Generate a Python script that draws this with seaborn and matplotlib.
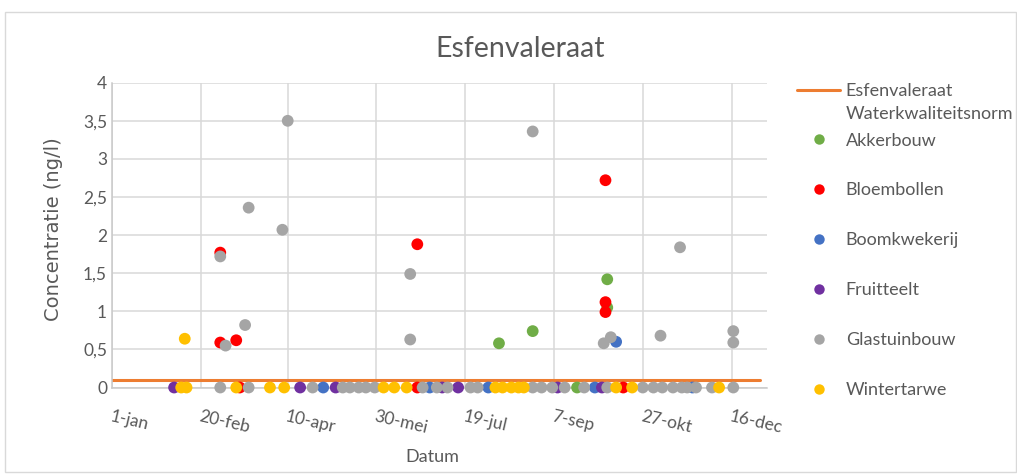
import numpy as np
import pandas as pd
import matplotlib
matplotlib.use("Agg")
import matplotlib.pyplot as plt
from matplotlib.lines import Line2D
from matplotlib.legend_handler import HandlerLine2D
from matplotlib.patches import Rectangle
import seaborn as sns

# --- data -------------------------------------------------------------------
sectors = ["Akkerbouw", "Bloembollen", "Boomkwekerij", "Fruitteelt",
           "Glastuinbouw", "Wintertarwe"]
sector_colors = ["#70AD47", "#FF0000", "#4472C4", "#7030A0", "#A5A5A5", "#FFC000"]

akkerbouw_dates = ["2019-09-20", "2019-08-07", "2019-08-26", "2019-10-07", "2019-10-07"]
akkerbouw_values = [0.0, 0.58, 0.74, 1.42, 1.05]

bloembollen_dates = ["2019-03-14", "2019-06-22", "2019-10-16",
                     "2019-03-03", "2019-03-03", "2019-03-12", "2019-06-22",
                     "2019-10-06", "2019-10-06", "2019-10-06"]
bloembollen_values = [0.0, 0.0, 0.0, 1.77, 0.59, 0.62, 1.88, 2.72, 1.12, 0.99]

boomkwekerij_dates = ["2019-04-30", "2019-06-29", "2019-08-01", "2019-09-30",
                      "2019-11-24", "2019-10-12"]
boomkwekerij_values = [0.0, 0.0, 0.0, 0.0, 0.0, 0.60]

fruitteelt_dates = ["2019-02-05", "2019-04-17", "2019-05-07", "2019-07-06",
                    "2019-07-15", "2019-09-09", "2019-10-04"]
fruitteelt_values = [0.0, 0.0, 0.0, 0.0, 0.0, 0.0, 0.0]

glastuinbouw_dates = ["2019-03-03", "2019-03-19", "2019-04-24", "2019-05-11",
                      "2019-05-15", "2019-05-20", "2019-05-24", "2019-05-29",
                      "2019-06-25", "2019-07-03", "2019-07-09", "2019-07-22",
                      "2019-07-26", "2019-08-26", "2019-08-31", "2019-09-06",
                      "2019-09-13", "2019-09-24", "2019-10-07", "2019-10-27",
                      "2019-11-02", "2019-11-07", "2019-11-13", "2019-11-18",
                      "2019-11-21", "2019-11-26", "2019-12-05", "2019-12-17",
                      "2019-04-10", "2019-03-19", "2019-04-07", "2019-03-03",
                      "2019-06-18", "2019-03-17", "2019-03-06", "2019-06-18",
                      "2019-08-26", "2019-11-17", "2019-10-05", "2019-10-09",
                      "2019-11-06", "2019-12-17", "2019-12-17"]
glastuinbouw_values = [0.0] * 28 + [3.50, 2.36, 2.07, 1.72, 1.49, 0.82, 0.55, 0.63,
                                    3.36, 1.84, 0.58, 0.66, 0.68, 0.74, 0.59]

wintertarwe_dates = ["2019-02-09", "2019-02-12", "2019-03-12", "2019-03-31",
                     "2019-04-08", "2019-06-03", "2019-06-09", "2019-06-16",
                     "2019-08-05", "2019-08-09", "2019-08-14", "2019-08-18",
                     "2019-08-21", "2019-10-12", "2019-10-21", "2019-12-09",
                     "2019-02-11"]
wintertarwe_values = [0.0] * 16 + [0.64]

norm_label = "Esfenvaleraat\nWaterkwaliteitsnorm"
norm_dates = ["2019-01-01", "2020-01-01"]
norm_values = [0.1, 0.1]

tick_dates = ["2019-01-01", "2019-02-20", "2019-04-10", "2019-05-30",
              "2019-07-19", "2019-09-07", "2019-10-27", "2019-12-16"]
tick_labels = ["1-jan", "20-feb", "10-apr", "30-mei", "19-jul", "7-sep",
               "27-okt", "16-dec"]
y_ticks = [0, 0.5, 1, 1.5, 2, 2.5, 3, 3.5, 4]

series = [
    (akkerbouw_dates, akkerbouw_values),
    (bloembollen_dates, bloembollen_values),
    (boomkwekerij_dates, boomkwekerij_values),
    (fruitteelt_dates, fruitteelt_values),
    (glastuinbouw_dates, glastuinbouw_values),
    (wintertarwe_dates, wintertarwe_values),
]
df = pd.concat(
    [pd.DataFrame({"datum": pd.to_datetime(d), "concentratie": v, "sector": name})
     for name, (d, v) in zip(sectors, series)],
    ignore_index=True,
)

# --- style ------------------------------------------------------------------
sns.set_theme(style="white")
plt.rcParams["font.family"] = ["Lato", "DejaVu Sans"]
text_grey = "#595959"

fig = plt.figure(figsize=(10.17, 4.75), dpi=100)
ax = fig.add_axes([0.1101, 0.1842, 0.6441, 0.6417])

norm_color = "#ED7D31"
sns.lineplot(x=pd.to_datetime(norm_dates), y=norm_values, color=norm_color,
             linewidth=2.2, ax=ax, zorder=2)
sns.scatterplot(data=df, x="datum", y="concentratie", hue="sector",
                hue_order=sectors, palette=sector_colors, s=72, linewidth=0,
                legend=False, clip_on=False, zorder=3, ax=ax)

ax.set_xlim(pd.Timestamp("2019-01-01"), pd.Timestamp("2020-01-05"))
ax.set_ylim(0, 4)
ax.set_xticks(pd.to_datetime(tick_dates))
ax.set_xticklabels(tick_labels, rotation=-13, ha="left", va="top",
                   rotation_mode="anchor")
ax.set_yticks(y_ticks)
ax.set_yticklabels([f"{v:g}".replace(".", ",") for v in y_ticks])
ax.tick_params(axis="both", length=0, labelcolor=text_grey, labelsize=12.5)
ax.tick_params(axis="x", pad=15)
ax.tick_params(axis="y", pad=3.5)

ax.grid(True, color="#D9D9D9", linewidth=1.1)
ax.set_axisbelow(True)
for side in ("top", "right"):
    ax.spines[side].set_visible(False)
for side in ("left", "bottom"):
    ax.spines[side].set_color("#C9C9C9")
    ax.spines[side].set_linewidth(1.1)

ax.set_xlabel("Datum", fontsize=13, color=text_grey)
ax.set_ylabel("Concentratie (ng/l)", fontsize=14, color=text_grey,
              family=["DejaVu Sans"])
ax.xaxis.label.set_verticalalignment("center")
ax.yaxis.label.set_verticalalignment("center")
ax.xaxis.set_label_coords(0.4885, -0.228)
ax.yaxis.set_label_coords(-0.090, 0.52)

fig.text(0.511, 0.897, "Esfenvaleraat", ha="center", va="center",
         fontsize=20.5, color=text_grey)


class FirstLineHandler(HandlerLine2D):
    """Line handle placed level with the first line of a two-line label."""

    def __init__(self, shift, **kw):
        super().__init__(**kw)
        self.shift = shift

    def create_artists(self, legend, orig_handle, xdescent, ydescent, width,
                       height, fontsize, trans):
        artists = super().create_artists(legend, orig_handle, xdescent, ydescent,
                                         width, height, fontsize, trans)
        for a in artists:
            a.set_ydata(np.asarray(a.get_ydata(), dtype=float) + self.shift)
        return artists


leg_font = 13
norm_handle = Line2D([], [], color=norm_color, linewidth=2.2)
norm_leg = fig.legend(
    handles=[norm_handle], labels=[norm_label], loc="upper left",
    bbox_to_anchor=(0.7837, 0.826), frameon=False, fontsize=leg_font,
    handlelength=2.4, handletextpad=0.3, borderpad=0, borderaxespad=0,
    labelcolor=text_grey,
    handler_map={norm_handle: FirstLineHandler(shift=0.68 * leg_font)},
)
for t in norm_leg.get_texts():
    t.set_linespacing(1.55)

sector_handles = [Line2D([], [], linestyle="none", marker="o", markersize=7.5,
                         markerfacecolor=c, markeredgewidth=0)
                  for c in sector_colors]
fig.legend(
    handles=sector_handles, labels=sectors, loc="upper left",
    bbox_to_anchor=(0.7837, 0.721), frameon=False, fontsize=leg_font,
    handlelength=2.4, handletextpad=0.3, labelspacing=1.88, borderpad=0,
    borderaxespad=0, labelcolor=text_grey,
)

fig.add_artist(Rectangle((5 / 1017, 3 / 475), 1011 / 1017, 460 / 475,
                         transform=fig.transFigure, fill=False,
                         edgecolor="#D9D9D9", linewidth=1.0))

fig.savefig("out.png", dpi=100)
